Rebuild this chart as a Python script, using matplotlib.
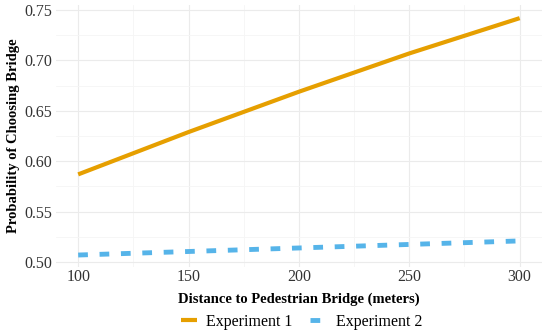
import matplotlib
matplotlib.use("Agg")
import matplotlib.pyplot as plt
from matplotlib.ticker import MultipleLocator

distance = [100, 150, 200, 250, 300]
exp1 = [0.587, 0.629, 0.669, 0.707, 0.742]
exp2 = [0.507, 0.5105, 0.514, 0.5175, 0.521]
xticks = [100, 150, 200, 250, 300]
yticks = [0.50, 0.55, 0.60, 0.65, 0.70, 0.75]

plt.rcParams['font.family'] = ['Liberation Serif', 'DejaVu Serif']

fig = plt.figure(figsize=(5.5, 3.36), dpi=100)
ax = fig.add_axes([0.102, 0.205, 0.883, 0.78])

ax.plot(distance, exp1, color='#E69F00', lw=3.0, solid_capstyle='butt', label='Experiment 1')
ax.plot(distance, exp2, color='#56B4E9', lw=3.5, linestyle=(0, (2.0, 2.4)),
        dash_capstyle='butt', label='Experiment 2')

ax.set_xlim(90, 310)
ax.set_ylim(0.495, 0.755)
ax.set_xticks(xticks)
ax.set_yticks(yticks)
ax.set_yticklabels([f"{v:.2f}" for v in yticks])
ax.xaxis.set_minor_locator(MultipleLocator(25))
ax.yaxis.set_minor_locator(MultipleLocator(0.025))
ax.grid(which='major', color='#EBEBEB', lw=0.8)
ax.grid(which='minor', color='#F5F5F5', lw=0.6)
ax.set_axisbelow(True)
for s in ax.spines.values():
    s.set_visible(False)
ax.tick_params(which='both', length=0, labelsize=11.5, labelcolor='#333333')
ax.tick_params(axis='y', pad=3)
ax.tick_params(axis='x', pad=1)

ax.set_xlabel('Distance to Pedestrian Bridge (meters)', fontsize=10.5, fontweight='bold', labelpad=6)
ax.set_ylabel('Probability of Choosing Bridge', fontsize=10.5, fontweight='bold', labelpad=3)

fig.legend(loc='lower center', bbox_to_anchor=(0.548, -0.025), ncol=2, frameon=False,
           fontsize=11.5, handlelength=1.0, handletextpad=0.6, columnspacing=1.1)

fig.savefig('out.png', dpi=100)
